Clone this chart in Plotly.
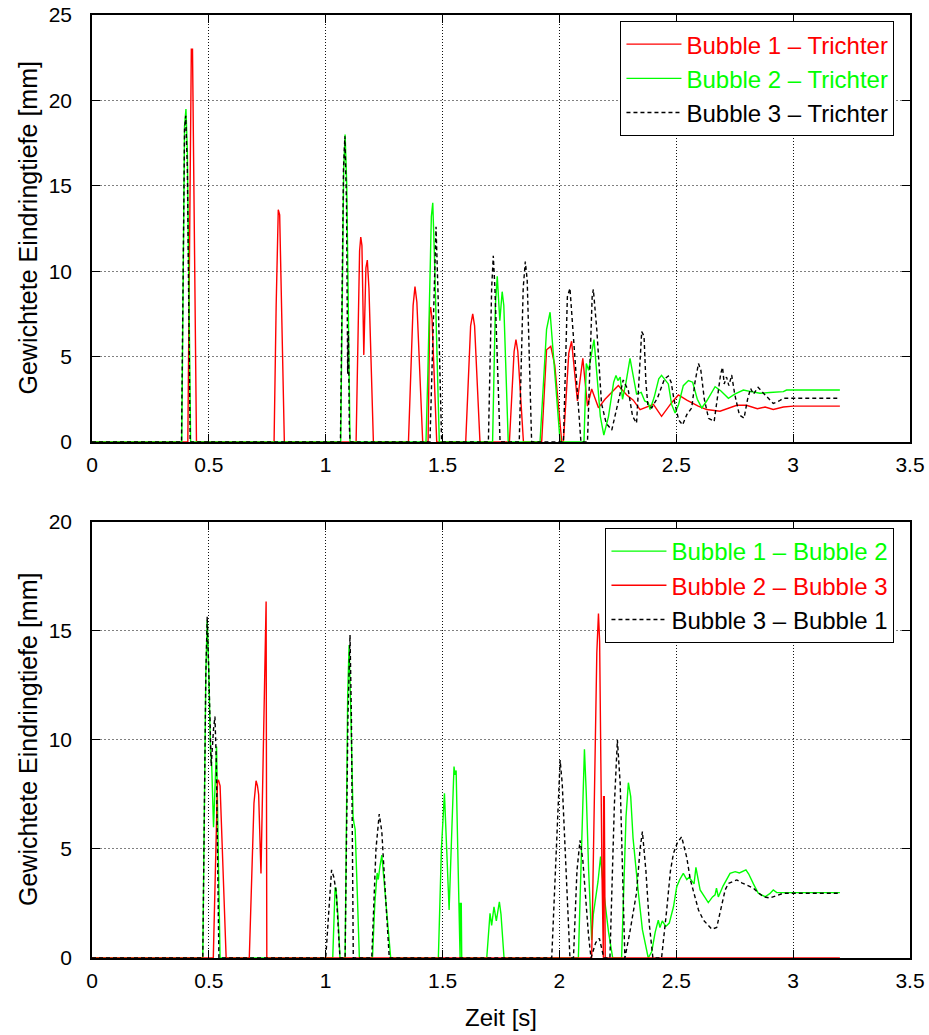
import plotly.graph_objects as go

# ---------------- upper panel: each bubble against the Trichter ----------------
t_b1_tr = [0, 0.41, 0.425, 0.43, 0.447, 0.779, 0.788, 0.797, 0.803, 0.812, 0.823,
           1.13, 1.145, 1.15, 1.155, 1.163, 1.172, 1.178, 1.185, 1.204,
           1.354, 1.374, 1.382, 1.39, 1.415, 1.438, 1.445, 1.449, 1.455, 1.475,
           1.599, 1.62, 1.629, 1.637, 1.66, 1.786, 1.806, 1.814, 1.822, 1.846,
           1.924, 1.945, 1.963, 1.98, 2.003, 2.01, 2.017, 2.04, 2.052, 2.077, 2.1, 2.12,
           2.138, 2.167, 2.195, 2.224, 2.252, 2.288, 2.316, 2.345, 2.402, 2.437, 2.48,
           2.509, 2.545, 2.594, 2.63, 2.687, 2.759, 2.8, 2.847, 2.88, 2.915, 2.958, 3.0, 3.2]
d_b1_tr = [0, 0, 23.0, 23.0, 0, 0, 8.0, 13.6, 13.3, 8.0, 0,
           0, 11.2, 12.0, 11.5, 5.1, 10.2, 10.65, 9.0, 0,
           0, 8.0, 9.1, 8.2, 0, 0, 7.6, 7.9, 7.2, 0,
           0, 6.8, 7.5, 6.8, 0, 0, 5.3, 6.0, 5.3, 0,
           0, 5.4, 5.6, 4.5, 0.8, 0, 0, 5.2, 5.9, 2.4, 4.9, 2.1,
           3.1, 2.0, 2.5, 2.9, 3.3, 2.75, 2.45, 1.9, 2.2, 1.5, 2.3,
           2.75, 2.45, 2.1, 1.9, 1.8, 2.15, 2.15, 1.95, 2.05, 1.9, 2.05, 2.1, 2.1]

t_b2_tr = [0, 0.384, 0.396, 0.402, 0.408, 0.422, 1.064, 1.077, 1.083, 1.09, 1.104,
           1.429, 1.437, 1.445, 1.452, 1.458, 1.465, 1.486,
           1.714, 1.726, 1.734, 1.745, 1.755, 1.762, 1.781,
           1.917, 1.945, 1.96, 1.977, 2.003, 2.105, 2.115, 2.125, 2.135, 2.148, 2.16, 2.175,
           2.19, 2.21, 2.232, 2.242, 2.25, 2.26, 2.27, 2.285, 2.302, 2.315, 2.33, 2.35,
           2.365, 2.38, 2.388, 2.405, 2.425, 2.437, 2.455, 2.466, 2.48, 2.495, 2.51, 2.53,
           2.552, 2.57, 2.59, 2.609, 2.63, 2.666, 2.69, 2.723, 2.75, 2.787, 2.82, 2.858,
           2.9, 2.958, 2.972, 3.2]
d_b2_tr = [0, 0, 18.5, 19.5, 17.0, 0, 0, 16.0, 18.0, 15.0, 0,
           0, 4.0, 9.0, 13.2, 14.0, 11.0, 0,
           0, 8.0, 9.7, 7.1, 8.8, 8.0, 0,
           0, 6.6, 7.6, 4.6, 0, 0, 4.6, 4.2, 5.0, 6.0, 4.0, 1.5,
           0.4, 1.5, 3.5, 3.9, 3.6, 3.8, 2.5, 3.5, 4.9, 3.8, 2.8, 2.9,
           2.4, 2.3, 1.9, 2.6, 3.7, 3.9, 3.6, 3.4, 2.2, 1.7, 2.2, 3.3,
           3.6, 3.5, 2.5, 2.0, 2.4, 3.24, 3.0, 2.56, 2.8, 3.04, 2.95, 2.85,
           2.9, 2.95, 3.04, 3.04]

t_b3_tr = [0, 0.383, 0.396, 0.401, 0.408, 0.42, 1.063, 1.076, 1.082, 1.089, 1.094,
           1.097, 1.101, 1.104, 1.446, 1.462, 1.472, 1.48, 1.496,
           1.696, 1.71, 1.717, 1.724, 1.746, 1.828, 1.845, 1.854, 1.862, 1.881,
           2.017, 2.034, 2.045, 2.067, 2.088, 2.092, 2.12, 2.14, 2.145, 2.16, 2.18,
           2.2, 2.224, 2.245, 2.273, 2.295, 2.313, 2.33, 2.345, 2.352, 2.362, 2.37,
           2.378, 2.395, 2.42, 2.45, 2.466, 2.478, 2.49, 2.51, 2.527, 2.545, 2.566,
           2.58, 2.595, 2.605, 2.62, 2.638, 2.662, 2.675, 2.69, 2.698, 2.705, 2.715,
           2.725, 2.737, 2.75, 2.77, 2.79, 2.805, 2.818, 2.83, 2.85, 2.87, 2.89,
           2.915, 2.94, 2.958, 3.2]
d_b3_tr = [0, 0, 18.3, 19.1, 16.0, 0, 0, 16.0, 17.9, 14.0, 4.0,
           6.5, 1.0, 0, 0, 8.0, 12.6, 9.0, 0,
           0, 9.0, 10.9, 9.0, 0, 0, 9.0, 10.56, 9.5, 0,
           0, 8.5, 9.0, 5.0, 0.7, 0, 0, 8.5, 8.94, 6.56, 2.26,
           1.1, 0.7, 2.0, 3.63, 3.0, 1.5, 1.1, 4.6, 6.46, 6.2, 3.5,
           2.2, 2.0, 2.6, 3.7, 3.86, 3.5, 2.5, 1.3, 1.0, 1.6, 2.0,
           3.5, 4.6, 4.2, 2.5, 1.39, 1.2, 2.5, 4.0, 4.37, 3.4, 3.8,
           3.3, 3.92, 2.8, 1.58, 1.4, 2.5, 3.14, 2.8, 3.2, 2.9, 2.6,
           2.26, 2.4, 2.56, 2.56]

# ---------------- lower panel: bubble pairs ----------------
t_b1_b2 = [0, 0.474, 0.487, 0.493, 0.5, 0.507, 0.512, 0.52, 0.527, 0.533, 0.54, 0.548,
           1.03, 1.036, 1.04, 1.044, 1.052, 1.061,
           1.083, 1.094, 1.1, 1.108, 1.117, 1.121, 1.126, 1.135, 1.144,
           1.2, 1.21, 1.22, 1.225, 1.232, 1.24, 1.25, 1.265, 1.278,
           1.482, 1.495, 1.508, 1.515, 1.528, 1.54, 1.549, 1.553, 1.558, 1.565, 1.572,
           1.575, 1.576, 1.58, 1.582,
           1.689, 1.703, 1.71, 1.72, 1.73, 1.743, 1.75, 1.763,
           2.081, 2.1, 2.107, 2.115, 2.125, 2.138, 2.145, 2.165, 2.176, 2.19, 2.21, 2.228,
           2.266, 2.285, 2.295, 2.305, 2.315, 2.338, 2.355, 2.38, 2.395, 2.41, 2.423,
           2.43, 2.44, 2.455, 2.47, 2.488, 2.502, 2.515, 2.53, 2.545, 2.555, 2.576,
           2.584, 2.602, 2.62, 2.637, 2.655, 2.666, 2.672, 2.68, 2.7, 2.73, 2.752,
           2.77, 2.798, 2.81, 2.83, 2.851, 2.88, 2.9, 2.915, 2.93, 3.2]
d_b1_b2 = [0, 0, 13.0, 15.5, 13.0, 9.5, 8.9, 6.0, 8.0, 9.7, 5.0, 0,
           0, 2.2, 3.2, 3.2, 2.0, 0,
           0, 12.0, 14.36, 11.0, 6.5, 6.18, 5.9, 3.0, 0,
           0, 2.5, 3.9, 3.6, 4.2, 4.72, 3.5, 1.5, 0,
           0, 5.0, 7.55, 5.5, 2.2, 6.0, 8.78, 8.4, 8.6, 5.0, 0,
           0, 2.5, 2.5, 0,
           0, 2.05, 1.5, 2.35, 1.7, 2.58, 2.0, 0,
           0, 7.0, 9.57, 7.5, 4.0, 0.83, 2.0, 3.5, 4.65, 3.0, 1.2, 0,
           0, 6.5, 8.04, 7.4, 5.5, 2.97, 1.3, 0, 0.3, 1.2, 1.74,
           1.4, 1.7, 1.45, 1.6, 2.35, 3.27, 3.6, 3.88, 3.6, 3.7, 3.4,
           4.16, 3.12, 2.8, 2.54, 2.8, 2.9, 3.2, 2.8, 3.3, 3.88, 3.96,
           3.9, 4.04, 3.85, 3.4, 2.97, 2.81, 2.95, 3.12, 3.0, 3.0]

t_b2_b3 = [0, 0.519, 0.537, 0.541, 0.548, 0.562, 0.574,
           0.673, 0.688, 0.693, 0.702, 0.708, 0.713, 0.723, 0.745, 0.748,
           2.138, 2.152, 2.16, 2.167, 2.172, 2.182, 2.185, 2.188, 2.189, 2.192, 2.196, 3.2]
d_b2_b3 = [0, 0, 8.1, 8.17, 7.9, 3.9, 0,
           0, 5.5, 7.1, 8.13, 7.9, 7.5, 3.88, 16.35, 0,
           0, 8.0, 14.0, 15.8, 14.5, 4.0, 0, 0, 7.4, 7.4, 0, 0]

t_b3_b1 = [0, 0.474, 0.487, 0.493, 0.5, 0.505, 0.51, 0.52, 0.526, 0.532, 0.543,
           1.0, 1.015, 1.025, 1.035, 1.045, 1.061,
           1.083, 1.095, 1.104, 1.11, 1.118,
           1.197, 1.215, 1.229, 1.24, 1.255, 1.272,
           1.967, 1.99, 2.003, 2.012, 2.031, 2.045, 2.06, 2.075, 2.088, 2.1, 2.124,
           2.135, 2.155, 2.171, 2.19, 2.216, 2.235, 2.248, 2.26, 2.27, 2.28,
           2.3, 2.33, 2.345, 2.355, 2.37, 2.385, 2.4, 2.437, 2.459, 2.475, 2.488,
           2.505, 2.523, 2.545, 2.56, 2.573, 2.595, 2.616, 2.652, 2.673, 2.69, 2.709,
           2.723, 2.759, 2.78, 2.8, 2.83, 2.85, 2.873, 2.9, 2.93, 2.958, 3.2]
d_b3_b1 = [0, 0, 13.0, 15.66, 13.0, 10.0, 8.8, 10.5, 11.07, 9.0, 0,
           0, 2.5, 4.04, 3.7, 3.0, 0,
           0, 11.0, 14.82, 11.0, 0,
           0, 5.0, 6.6, 5.8, 3.0, 0,
           0, 6.0, 9.08, 8.0, 3.73, 0, 0, 4.0, 5.4, 4.5, 1.1,
           0, 0.7, 0.9, 0, 0, 7.0, 10.0, 8.0, 4.0, 0,
           1.1, 3.0, 5.0, 5.8, 4.0, 1.5, 0, 0, 2.2, 4.0, 4.8,
           5.3, 5.56, 4.6, 3.6, 3.12, 2.2, 1.74, 1.32, 1.4, 2.2, 3.12,
           3.42, 3.58, 3.45, 3.35, 3.2, 3.0, 2.81, 2.75, 2.85, 2.97, 2.97]

# ---------------- styling ----------------
RED, GREEN, BLACK = "#ff0000", "#00ff00", "#000000"
FONT = "Liberation Sans, Arial, sans-serif"
LW = 1.4
DASH = "4px,3px"


def label(text, color):
    return f"<span style='color:{color}'>{text}</span>"


fig = go.Figure()

upper = [
    (t_b1_tr, d_b1_tr, "Bubble 1 – Trichter", RED, "solid"),
    (t_b2_tr, d_b2_tr, "Bubble 2 – Trichter", GREEN, "solid"),
    (t_b3_tr, d_b3_tr, "Bubble 3 – Trichter", BLACK, DASH),
]
for t, d, name, col, dash in upper:
    fig.add_trace(go.Scatter(x=t, y=d, mode="lines", name=label(name, col),
                             line=dict(color=col, width=LW, dash=dash),
                             xaxis="x", yaxis="y", legend="legend"))

lower = [
    (t_b1_b2, d_b1_b2, "Bubble 1 – Bubble 2", GREEN, "solid"),
    (t_b2_b3, d_b2_b3, "Bubble 2 – Bubble 3", RED, "solid"),
    (t_b3_b1, d_b3_b1, "Bubble 3 – Bubble 1", BLACK, DASH),
]
for t, d, name, col, dash in lower:
    fig.add_trace(go.Scatter(x=t, y=d, mode="lines", name=label(name, col),
                             line=dict(color=col, width=LW, dash=dash),
                             xaxis="x2", yaxis="y2", legend="legend2"))

tickfont = dict(family=FONT, size=21, color="black")
common = dict(showline=True, linecolor="black", linewidth=1.5, mirror="ticks",
              ticks="inside", ticklen=8, tickwidth=1.2, tickcolor="black",
              showgrid=True, gridwidth=1, zeroline=False, automargin=False,
              tickfont=tickfont)
xcommon = dict(common, range=[0, 3.5], tick0=0, dtick=0.5, gridcolor="#111111",
               griddash="1px,2px", ticklabelstandoff=3)
ycommon = dict(common, tick0=0, dtick=5, gridcolor="#808080",
               griddash="2px,2px", ticklabelstandoff=14)

top_dom = [0.5472, 1.0]
bot_dom = [0.0, 0.4624]

legend_style = dict(font=dict(family=FONT, size=24, color="black"),
                    bgcolor="white", bordercolor="black", borderwidth=1,
                    xanchor="right", yanchor="top", x=0.981,
                    tracegroupgap=0, itemwidth=55)

ytitle_font = dict(family=FONT, size=25, color="black")

fig.update_layout(
    width=929, height=1035,
    margin=dict(l=92, r=19, t=15, b=77, autoexpand=False),
    paper_bgcolor="white", plot_bgcolor="white",
    showlegend=True,
    xaxis=dict(xcommon, domain=[0, 1], anchor="y"),
    yaxis=dict(ycommon, domain=top_dom, range=[0, 25], anchor="x"),
    xaxis2=dict(xcommon, domain=[0, 1], anchor="y2"),
    yaxis2=dict(ycommon, domain=bot_dom, range=[0, 20], anchor="x2"),
    legend=dict(legend_style, y=0.9936),
    legend2=dict(legend_style, y=0.4560),
    annotations=[
        dict(text="Gewichtete Eindringtiefe [mm]", xref="paper", yref="paper",
             x=-0.0782, y=(top_dom[0] + top_dom[1]) / 2, textangle=-90,
             xanchor="center", yanchor="middle", showarrow=False,
             font=ytitle_font),
        dict(text="Gewichtete Eindringtiefe [mm]", xref="paper", yref="paper",
             x=-0.0782, y=(bot_dom[0] + bot_dom[1]) / 2, textangle=-90,
             xanchor="center", yanchor="middle", showarrow=False,
             font=ytitle_font),
        dict(text="Zeit [s]", xref="paper", yref="paper",
             x=0.5, y=-0.0636, xanchor="center", yanchor="middle",
             showarrow=False, font=dict(family=FONT, size=24, color="black")),
    ],
)

fig.write_html("out.html")
